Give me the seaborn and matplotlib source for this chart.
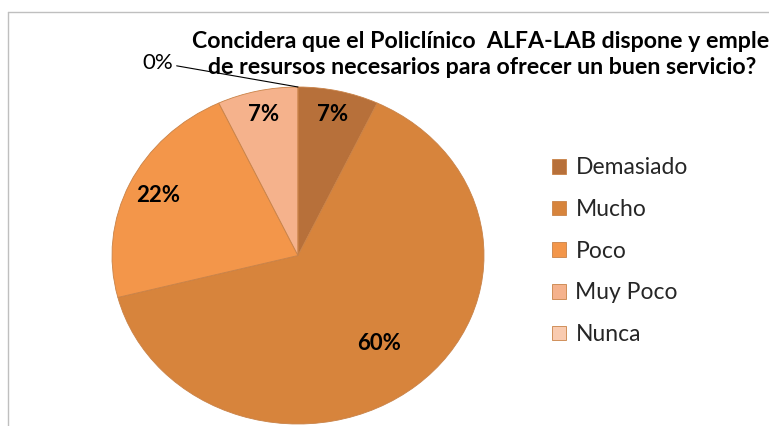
import numpy as np
import matplotlib
matplotlib.use("Agg")
import matplotlib.pyplot as plt
from matplotlib.lines import Line2D
import seaborn as sns

# data
categories = ["Demasiado", "Mucho", "Poco", "Muy Poco", "Nunca"]
shares = [7, 64, 22, 7, 0]          # slice sizes as drawn
shown_labels = ["7%", "60%", "22%", "7%", "0%"]   # text printed on the slices
colors = ["#B7703A", "#D7843C", "#F3964A", "#F5B28C", "#F9CBB0"]

title_1 = "Concidera que el Policlínico  ALFA-LAB dispone y emplea"
title_2 = "de resursos necesarios para ofrecer un buen servicio?"

sns.set_theme(style="white")
plt.rcParams['font.family'] = ['Lato', 'DejaVu Sans']

W, H = 769, 426
fig = plt.figure(figsize=(W / 100, H / 100), dpi=100)
fig.patch.set_facecolor("white")

# chart area frame (only left and top edges are inside the image)
fx, fy = 8 / W, 1 - 12 / H
fig.add_artist(Line2D([fx, fx], [0, fy], transform=fig.transFigure,
                      color="#BFBFBF", lw=1.0))
fig.add_artist(Line2D([fx, 1], [fy, fy], transform=fig.transFigure,
                      color="#BFBFBF", lw=1.0))

# pie is drawn a bit wider than tall, like the original
ax = fig.add_axes([112 / W, 2 / H, 372 / W, 337 / H])
wedges, _ = ax.pie(shares, colors=sns.color_palette(colors), startangle=90,
                   counterclock=False, radius=1,
                   wedgeprops=dict(edgecolor="#C98247", linewidth=0.6))
ax.set_aspect("auto")
ax.set_xlim(-1, 1)
ax.set_ylim(-1, 1)
ax.axis("off")

label_r = [0.86, 0.68, 0.83, 0.86]
for w, txt, r in zip(wedges[:4], shown_labels[:4], label_r):
    mid = np.deg2rad((w.theta1 + w.theta2) / 2)
    ax.text(r * np.cos(mid), r * np.sin(mid), txt, ha="center", va="center",
            fontsize=16, fontweight="bold", color="black")

# zero slice gets a leader line
w0 = wedges[4]
t0 = np.deg2rad(w0.theta1)
ax.annotate(shown_labels[4], xy=(np.cos(t0), np.sin(t0)), xytext=(-0.67, 1.145),
            ha="right", va="center", fontsize=16, color="black",
            annotation_clip=False,
            arrowprops=dict(arrowstyle="-", color="black", lw=0.8,
                            shrinkA=0, shrinkB=0))

fig.text(192 / W, 1 - 42 / H, title_1, ha="left", va="center",
         fontsize=16.7, fontweight="bold", color="black")
fig.text(208 / W, 1 - 68 / H, title_2, ha="left", va="center",
         fontsize=16.7, fontweight="bold", color="black")

fig.legend(wedges, categories, loc="upper left", bbox_to_anchor=(541 / W, 1 - 146 / H),
           frameon=False, fontsize=16.5, handlelength=0.6, handleheight=0.6,
           handletextpad=0.4, labelspacing=0.9, borderpad=0)

fig.savefig("out.png", dpi=100)
